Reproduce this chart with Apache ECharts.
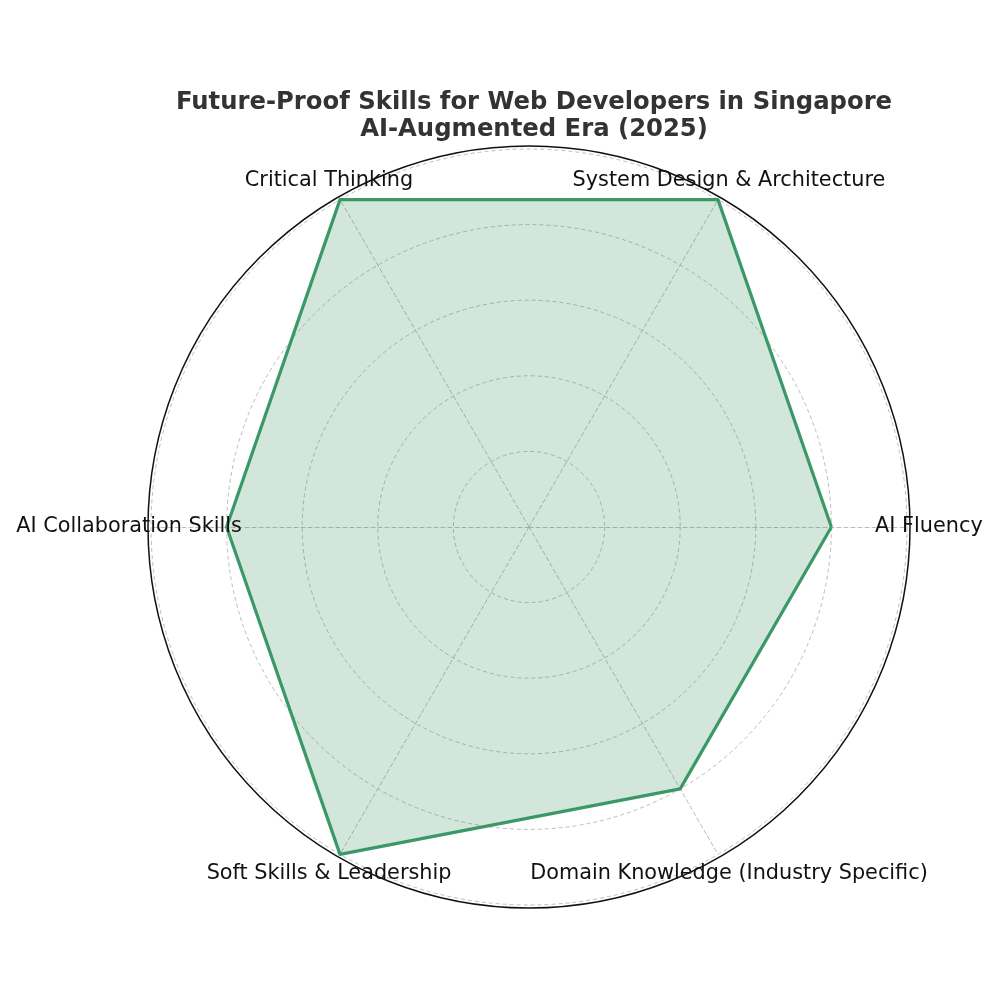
<!DOCTYPE html>
<html>
<head>
<meta charset="utf-8">
<script src="https://cdn.jsdelivr.net/npm/echarts@6/dist/echarts.min.js"></script>
<style>
  html, body { margin: 0; padding: 0; background: #fff; }
  #chart { width: 1000px; height: 1000px; }
</style>
</head>
<body>
<div id="chart"></div>
<script>
// skills, counterclockwise from the right (0 deg)
var skills = ['AI Fluency', 'System Design & Architecture', 'Critical Thinking',
              'AI Collaboration Skills', 'Soft Skills & Leadership', 'Domain Knowledge (Industry Specific)'];
var scores = [4, 5, 5, 4, 5, 4];
var maxScore = 5;
var labelRadius = 5.29; // where the category names sit, in score units

var center = [529, 527];
var chart = echarts.init(document.getElementById('chart'));

var labelData = skills.map(function (s, i) {
  return { name: s, value: [labelRadius, i * 360 / skills.length] };
});

var option = {
  backgroundColor: '#fff',
  animation: false,
  title: {
    text: 'Future-Proof Skills for Web Developers in Singapore\nAI-Augmented Era (2025)',
    left: 529,
    textAlign: 'center',
    top: 84,
    textStyle: {
      fontFamily: 'DejaVu Sans',
      fontWeight: 'bold',
      fontSize: 24.3,
      lineHeight: 27,
      color: '#333'
    }
  },
  radar: {
    center: center,
    radius: 378,
    startAngle: 0,
    shape: 'circle',
    splitNumber: 5,
    indicator: skills.map(function (s) { return { name: s, max: maxScore, min: 0 }; }),
    axisName: { show: false },
    axisLine: { lineStyle: { color: '#bdbdbd', type: [4, 3], width: 1 } },
    splitLine: { lineStyle: { color: '#bdbdbd', type: [4, 3], width: 1 } },
    splitArea: { show: false },
    axisTick: { show: false },
    axisLabel: { show: false }
  },
  // outer frame circle and the category names
  polar: { center: center, radius: 381 },
  angleAxis: {
    type: 'value', min: 0, max: 360, startAngle: 0, clockwise: false,
    axisLine: { lineStyle: { color: '#111', width: 1.5 } },
    axisTick: { show: false }, axisLabel: { show: false }, splitLine: { show: false }
  },
  radiusAxis: {
    type: 'value', min: 0, max: maxScore * 381 / 378,
    axisLine: { show: false }, axisTick: { show: false },
    axisLabel: { show: false }, splitLine: { show: false }
  },
  series: [
    {
      type: 'radar',
      z: 3,
      symbol: 'none',
      lineStyle: { color: '#3d9a6a', width: 3.2 },
      areaStyle: { color: 'rgba(46,139,87,0.21)', opacity: 1 },
      data: [{ value: scores, name: 'Skills' }]
    },
    {
      type: 'scatter',
      coordinateSystem: 'polar',
      clip: false,
      symbolSize: 0,
      z: 4,
      silent: true,
      itemStyle: { opacity: 1 },
      label: {
        show: true,
        position: 'inside',
        formatter: '{b}',
        fontFamily: 'DejaVu Sans',
        fontSize: 20.8,
        color: '#111',
        opacity: 1
      },
      data: labelData
    }
  ]
};

chart.setOption(option);
</script>
</body>
</html>
